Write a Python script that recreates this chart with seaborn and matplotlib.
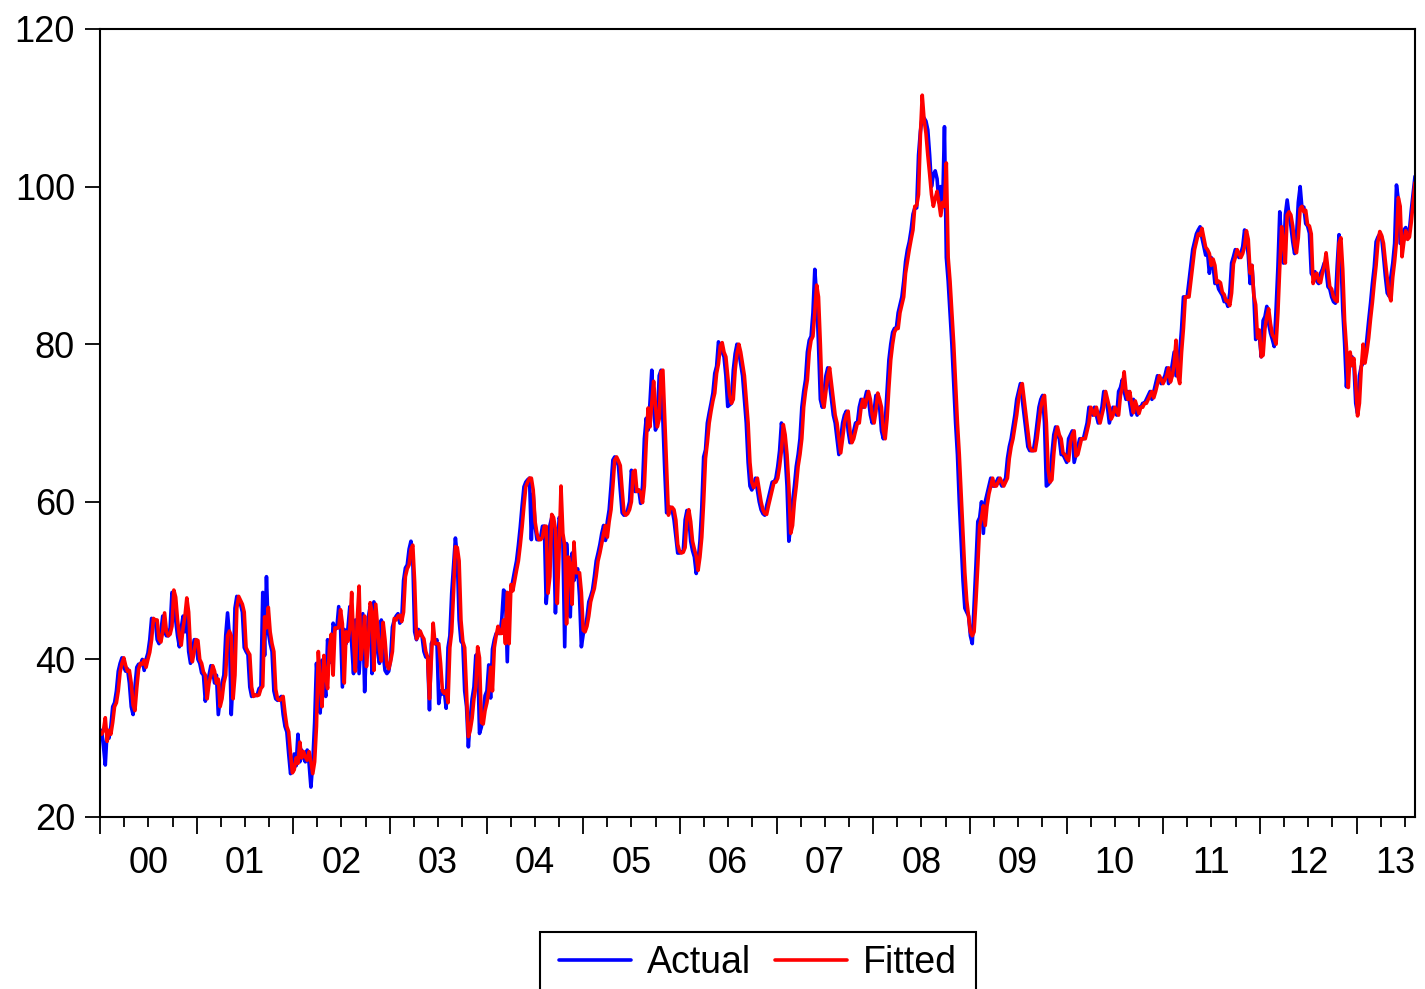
import pandas as pd
import matplotlib
matplotlib.use("Agg")
import matplotlib.pyplot as plt
import matplotlib.dates as mdates
import matplotlib.ticker as mticker
import matplotlib.transforms as mtransforms
import seaborn as sns

# weekly values, one list per calendar year
actual_2000 = [31, 29, 26.6, 31, 30, 31.5, 34, 34.5, 36, 38.5,
               39.5, 40.2, 39, 38.5, 38.8, 37, 34, 33, 36.5, 39,
               39.4, 39.3, 40, 38.6, 40, 40.8, 42.5, 45.2, 45, 45,
               42.5, 42, 43.5, 45.5, 43.5, 43, 43, 44, 48.5, 48,
               45, 43, 41.6, 44, 45.5, 43.5, 46, 41, 39.5, 41,
               42.5, 42.5]
actual_2001 = [40, 39.5, 38.3, 38, 34.7, 37, 38, 39.2, 38.5, 37,
               38, 33, 35, 37, 38, 43, 45.9, 43, 33, 38,
               46.5, 48, 47.5, 47, 46, 41.5, 41, 40.6, 36.5, 35.3,
               35.5, 35.4, 35.5, 36.3, 36.5, 48.5, 40.5, 50.5, 43.5, 42,
               41, 36, 35, 34.8, 35, 35.3, 33, 31.5, 30.8, 28,
               25.5, 26.5]
actual_2002 = [28, 26.5, 30.5, 27, 28.5, 27.5, 27, 28.5, 26.8, 23.8,
               27, 32, 39.5, 36, 33.2, 39.9, 37.7, 35.3, 42.5, 40,
               39.6, 44.6, 43.8, 44, 46.7, 44, 36.5, 43.8, 42, 44,
               46.7, 42, 38.2, 45, 44, 38.2, 42, 45.8, 35.9, 42,
               45.4, 46.7, 38.2, 47.3, 43.8, 41, 39.5, 45, 40.7, 38.6,
               38.2, 38.5]
actual_2003 = [40, 44.1, 45, 45.5, 45.8, 44.6, 45, 50, 51.6, 52,
               54, 55, 52.5, 43.5, 42.5, 43.8, 43.3, 42.9, 41, 40.3,
               40.3, 33.6, 42, 42.5, 42, 42.5, 34.4, 36, 35.6, 36,
               33.8, 41.5, 43, 48.4, 52, 55.4, 53, 45, 42.3, 42,
               36, 34, 28.9, 32.5, 35, 36.5, 40.5, 40.7, 30.6, 31.4,
               33, 35.4]
actual_2004 = [36, 39.3, 35.1, 41.3, 42.5, 43.3, 43.3, 43.3, 45, 48.8,
               48.5, 39.7, 48.3, 48.7, 50, 51.3, 52.5, 54.5, 56.8, 59.5,
               61.9, 62.5, 62.8, 63, 55.2, 61, 57, 55.2, 55.2, 55.5,
               56.9, 56.9, 47.1, 50, 57, 58, 56, 45.9, 53, 58,
               57.5, 55, 41.6, 54.7, 51, 45.4, 53.5, 50, 51, 51.5,
               48, 41.6, 43.2]
actual_2005 = [44, 45.3, 47.3, 48, 48.8, 50.5, 52.5, 53.5, 54.6, 56,
               57, 55.1, 57.5, 59, 62, 65.3, 65.7, 65.2, 64.6, 61.5,
               58.6, 58.3, 58.5, 59, 60, 64, 62.6, 61.3, 61.5, 61.5,
               59.8, 62, 68, 70.6, 69.1, 72.5, 76.7, 72, 69.1, 70,
               76, 76.7, 70.4, 64, 58.6, 59.3, 59.3, 59, 57.7, 55.6,
               53.5, 53.5]
actual_2006 = [53.6, 53.8, 57.7, 58.9, 58, 55, 53.8, 53, 50.9, 52.5,
               55, 59.3, 65.7, 66.6, 70, 71.3, 72.5, 73.8, 76.3, 77.2,
               80.3, 79.7, 79, 78.4, 76, 72.1, 72.3, 72.5, 76.7, 78.8,
               80, 79, 77.5, 76, 73, 70, 65, 62, 61.5, 62,
               63, 61.5, 60, 59, 58.5, 58.3, 59.5, 60.5, 61.5, 62.5,
               62.5, 63]
actual_2007 = [64.5, 66.5, 70, 68.5, 66, 62, 55, 57, 60, 62,
               64.5, 66, 68, 72, 74, 75.5, 79, 80.5, 81, 84,
               89.5, 86, 80, 73, 72, 74, 76, 77, 75, 73,
               71, 70, 68, 66, 68, 70, 71, 71.5, 69, 67.5,
               68, 69, 70, 70, 72, 73, 72, 73, 74, 73,
               71, 70]
actual_2008 = [71.5, 73.5, 73, 72, 69, 68, 70, 74, 78, 80,
               81.5, 82, 82, 84, 85, 86, 88, 90.5, 92, 93,
               94.5, 96.5, 97.3, 97.3, 104, 107, 108.9, 108.7, 108.3, 107.2,
               104, 100, 101.5, 102, 101, 98, 100, 97.4, 107.6, 91,
               88, 84, 80, 75, 70, 66, 60, 55, 50, 46.5,
               46, 45.5, 43]
actual_2009 = [42, 47, 52, 57.5, 58, 60, 56, 60, 61, 62,
               63, 62, 62, 62.5, 63, 62.5, 62, 62.5, 63, 65.5,
               67, 68, 69.5, 71, 73, 74, 75, 73, 71, 69,
               67, 66.5, 66.5, 66.5, 68, 70, 72, 73, 73.5, 70,
               62, 62.2, 62.5, 66, 68.5, 69.5, 68.5, 68, 66, 66,
               65.5, 65]
actual_2010 = [68, 68.5, 69, 65, 66, 67, 68, 68, 68, 69,
               70, 72, 71.5, 71, 72, 71, 70, 71, 72, 74,
               73, 72, 70, 71, 72, 71.5, 71, 74, 74.5, 75.5,
               74, 73, 74, 72.5, 71, 73, 72, 71, 72, 72,
               72.5, 72.5, 73, 73.5, 74, 73, 74, 75, 76, 75.5,
               75, 75.5]
actual_2011 = [76, 77, 75, 76, 77.5, 79, 76, 76, 79, 82,
               86, 86, 86, 88, 90, 92, 93, 94, 94.5, 94.9,
               93.5, 92.4, 91.3, 91.6, 89, 91, 90, 87.7, 88, 87,
               86.6, 86.2, 85.4, 85.5, 84.8, 86.5, 90.3, 91.1, 92, 91.5,
               91, 91.5, 92.4, 94.5, 93.3, 91.3, 87.7, 90, 86.2, 80.6,
               81.8, 81]
actual_2012 = [78.4, 83, 83.5, 84.8, 82.6, 81.4, 80.6, 79.7, 84.4, 89.8,
               96.8, 93, 90.3, 96.4, 98.3, 96.4, 95, 93, 91.5, 93.5,
               98, 100, 97.2, 97.4, 95.3, 95, 94.1, 89, 88.6, 89.2,
               88, 87.7, 89, 89.5, 90.3, 89.5, 87.3, 87, 86, 85.4,
               85.2, 90, 93.9, 91.2, 84.4, 80.1, 74.6, 78.4, 77.2, 78.4,
               77.5, 72.5]
actual_2013 = [71.2, 76, 77.2, 77.6, 78.5, 80.6, 83, 85.2, 87.7, 89.8,
               93, 93.6, 94, 93.6, 91.2, 88.6, 86.5, 86.1, 88.6, 90.3,
               92.8, 100.2, 98.3, 92.8, 92.8, 94.5, 94.8, 93.6, 94.5, 97,
               99.2, 101.3]

fitted_2000 = [30.5, 31, 32.6, 29.6, 31, 30.5, 32, 34, 34.5, 36,
               38.4, 39.5, 40.2, 39.2, 38.5, 38.6, 37, 34.2, 33.5, 36.4,
               38.8, 39.5, 39.4, 39.9, 39, 40, 40.9, 42.5, 45.2, 45,
               45, 42.6, 42.2, 43.5, 45.9, 43.6, 43, 43.2, 44.2, 48.8,
               47.9, 45, 43, 41.8, 44, 45.5, 47.8, 46, 41.2, 39.7,
               41, 42.5]
fitted_2001 = [42.4, 40, 39.5, 38.4, 38, 35, 37, 38, 39.2, 38.5,
               37, 37.5, 34, 35, 37, 38, 43, 43.6, 43, 35,
               38, 46.5, 48, 47.5, 47, 46, 41.5, 41, 40.6, 36.5,
               35.3, 35.5, 35.4, 35.5, 36.3, 36.6, 45.4, 44, 46.6, 43.5,
               42, 41, 36.2, 35, 34.8, 35, 35.3, 33.2, 31.5, 30.8,
               28, 25.6]
fitted_2002 = [26, 27.5, 26.8, 29.5, 27.5, 28.3, 27.6, 27.2, 28.3, 27,
               25.5, 27, 31.5, 41, 37, 34, 40.5, 37.9, 36.3, 41.5,
               43.2, 38, 44, 44, 44, 46.3, 44.5, 37, 43.5, 42.3,
               44, 48.5, 42.5, 38.5, 45, 49.3, 40, 42.2, 45.5, 39.1,
               42, 47.2, 46, 38.6, 47, 44.1, 41.2, 39.8, 44.7, 42.5,
               39.3, 38.8]
fitted_2003 = [39.7, 41, 45.2, 45, 45.5, 45.6, 44.8, 46, 50.5, 51.5,
               52, 54, 54.5, 49.8, 42.6, 43, 43.6, 43, 42.6, 41,
               40.3, 35, 40, 44.6, 42, 42, 42, 39.5, 36, 35.7,
               36, 34.5, 41.5, 43.5, 48.5, 54.3, 54.2, 52.5, 45, 42.3,
               41.5, 36, 30.2, 31, 32.5, 35, 36.5, 41.6, 40.2, 32,
               31.8, 33.5]
fitted_2004 = [34.5, 36, 39, 36, 41.5, 43, 44.2, 43.3, 43.3, 45,
               42, 48.5, 42, 49.5, 48.7, 50, 51.3, 52.5, 54.5, 56.8,
               59.5, 61.9, 62.5, 63, 63, 61.5, 57.5, 56, 55.2, 55.2,
               55.5, 56.9, 56.9, 48.4, 50.5, 58.4, 58, 56.5, 47.1, 54,
               62, 56, 54.5, 44.5, 53, 52, 47, 54.9, 51, 51,
               51, 48.5, 43.7]
fitted_2005 = [43.5, 44.2, 45.5, 47.3, 48.2, 49, 50.6, 52.5, 53.5, 54.7,
               56, 57, 55.5, 57.5, 59, 62, 65.3, 65.7, 65.2, 64.6,
               61.5, 58.6, 58.3, 58.5, 59, 60, 63.8, 64, 61.3, 61.5,
               61.2, 59.9, 62, 67.5, 71.9, 69.5, 72.5, 75.3, 72.2, 69.5,
               70.5, 76.5, 76.7, 70.5, 64.2, 58.3, 59.3, 59.3, 59, 57.7,
               54.6, 53.7]
fitted_2006 = [53.5, 53.6, 54.2, 58, 59, 57.5, 55, 54, 53.1, 51.3,
               53, 55.5, 60, 65.5, 67.5, 70, 71.5, 72.8, 73.8, 76.3,
               77.5, 79.8, 80.2, 79, 78.4, 76, 73.5, 72.5, 73, 76.7,
               78.8, 80, 79, 77.5, 76, 73, 70, 65, 62.5, 61.8,
               62.2, 63, 61.5, 60, 59, 58.5, 58.4, 59.5, 60.5, 61.5,
               62.5, 62.5]
fitted_2007 = [63, 64.5, 66.5, 69.8, 68.5, 66, 62, 56, 57, 60,
               62, 64.5, 66, 68, 72, 74, 75.5, 79, 80.5, 81,
               84, 87.5, 86, 80, 73, 72, 74, 76, 77, 75,
               73, 71, 70, 68, 66.2, 68, 70, 71, 71.5, 69,
               67.5, 68, 69, 70, 70, 72, 73, 72, 73, 74,
               73, 71]
fitted_2008 = [70, 71.5, 73.8, 73, 72, 69, 68, 70.5, 74.5, 78,
               80, 81.5, 82, 82, 84, 85, 86, 89, 90.5, 92,
               93.3, 94.5, 97.5, 97.6, 99, 106.5, 111.6, 108.5, 106.8, 104,
               101.6, 99, 97.5, 98.5, 99.4, 98, 96.3, 98, 97.5, 103,
               91, 88, 84, 80, 75, 70, 66, 61, 56, 51,
               47.5, 45.5, 43.5]
fitted_2009 = [43, 43.5, 47.5, 52, 57, 58, 59.5, 57, 59.5, 61,
               62, 63, 62, 62, 62.5, 63, 62.5, 62, 62.5, 63,
               65.5, 67, 68, 69.5, 71, 73, 74.3, 75, 73, 71,
               69, 67, 66.5, 66.5, 66.5, 68, 70, 72, 73, 73.5,
               70, 64, 62.5, 62.8, 66, 68.5, 69.5, 68.5, 68, 66.2,
               66, 65.5]
fitted_2010 = [65.2, 67.5, 68.5, 69, 65.8, 66, 67, 68, 68, 68,
               69, 70, 72, 71.5, 71, 72, 71, 70, 71, 72,
               74, 73, 72, 70.5, 71, 72, 71.5, 71, 73.5, 74.5,
               76.5, 74, 73, 74, 72.5, 71.3, 72.8, 72, 71.2, 72,
               72, 72.5, 72.5, 73, 73.5, 74, 73.2, 74, 75, 76,
               75.5, 75]
fitted_2011 = [75.5, 76, 77, 75.2, 76, 77.5, 80.5, 76, 75, 79,
               82, 86, 86, 86, 88, 90, 92, 93, 94, 93.8,
               94.7, 93.5, 92.3, 92, 91.5, 90, 90.8, 90, 87.8, 88,
               87.8, 86.6, 86.3, 85.5, 85.5, 84.9, 86.5, 90.2, 91, 92,
               91.5, 91, 91.5, 92.4, 94.4, 93.3, 89, 90, 86.2, 85,
               80.8, 81.8]
fitted_2012 = [78.4, 78.6, 82, 83.5, 84.5, 82.6, 81.2, 80.8, 80, 84,
               89.8, 94.9, 93, 90.3, 96.4, 96.8, 96.4, 95, 92.6, 91.6,
               93.5, 97.2, 97.5, 96.8, 97, 95.2, 95, 94, 87.7, 88.6,
               89, 88, 87.8, 89, 89.8, 91.6, 89.5, 87.3, 87, 86,
               85.6, 85.4, 92.8, 93.5, 89.5, 83, 79.5, 74.5, 79, 77.3,
               78.2, 75]
fitted_2013 = [70.9, 72.5, 77, 80, 77.6, 79, 80.8, 83.2, 85.3, 87.8,
               90, 93, 94.3, 93.8, 92.8, 90.5, 88.4, 86.3, 85.5, 88.5,
               90.5, 93, 98.6, 97.5, 91.1, 93, 94.4, 93.3, 93.6, 95.5,
               98, 100.5]

y_ticks = [20, 40, 60, 80, 100, 120]

actual = (actual_2000 + actual_2001 + actual_2002 + actual_2003 + actual_2004
          + actual_2005 + actual_2006 + actual_2007 + actual_2008 + actual_2009
          + actual_2010 + actual_2011 + actual_2012 + actual_2013)
fitted = (fitted_2000 + fitted_2001 + fitted_2002 + fitted_2003 + fitted_2004
          + fitted_2005 + fitted_2006 + fitted_2007 + fitted_2008 + fitted_2009
          + fitted_2010 + fitted_2011 + fitted_2012 + fitted_2013)

dates = pd.date_range("2000-01-07", periods=len(actual), freq="W-FRI")
df = pd.DataFrame({"date": dates, "Actual": actual, "Fitted": fitted})
df = df.melt(id_vars="date", var_name="series", value_name="value")

sns.set_style("ticks")
plt.rcParams["font.family"] = ["Liberation Sans", "DejaVu Sans"]

fig = plt.figure(figsize=(14.25, 9.89), dpi=100)
ax = fig.add_axes([100 / 1425, 1 - 817 / 989, 1315 / 1425, 788 / 989])

sns.lineplot(data=df, x="date", y="value", hue="series",
             palette={"Actual": "#0000ff", "Fitted": "#ff0000"},
             linewidth=2.6, ax=ax, legend=False)

ax.set_xlim(pd.Timestamp("2000-01-01"), dates[-1])
ax.set_ylim(20, 120)
ax.set_yticks(y_ticks)
ax.set_xlabel("")
ax.set_ylabel("")

# long ticks at year starts, short ticks each quarter, year label mid-year
ax.xaxis.set_major_locator(mdates.YearLocator())
ax.xaxis.set_major_formatter(mticker.NullFormatter())
ax.xaxis.set_minor_locator(mdates.MonthLocator(bymonth=[4, 7, 10]))


def mid_year(x, pos):
    d = mdates.num2date(x)
    return d.strftime("%y") if d.month == 7 else ""


ax.xaxis.set_minor_formatter(mticker.FuncFormatter(mid_year))
ax.tick_params(axis="x", which="major", length=12, width=1.3, color="black")
ax.tick_params(axis="x", which="minor", length=7, width=1.3, color="black",
               labelsize=26, labelcolor="black", pad=14)
ax.tick_params(axis="y", length=11, width=1.3, color="black",
               labelsize=26, labelcolor="black", pad=7)

for s in ax.spines.values():
    s.set_visible(True)
    s.set_color("black")
    s.set_linewidth(1.5)

# legend box hangs off the bottom edge of the figure, like the original
leg = ax.legend(ax.get_lines()[:2], ["Actual", "Fitted"], ncol=2,
                loc="upper center", bbox_to_anchor=(758 / 1425, 1 - 936 / 989),
                bbox_transform=fig.transFigure, fontsize=27, frameon=True,
                fancybox=False, edgecolor="black", framealpha=1,
                labelcolor="black",
                handlelength=1.92, handletextpad=0.43, columnspacing=0.64,
                borderpad=0.25, borderaxespad=0)
frame = leg.get_frame()
frame.set_linewidth(1.5)
frame.set_boxstyle("square", pad=0.25)
frame.set_mutation_aspect(0.43)

# the last year label sits a little left of its tick, as in the original
fig.canvas.draw()
for tick in ax.xaxis.get_minor_ticks():
    if tick.label1.get_text() == "13":
        shift = mtransforms.ScaledTranslation(-9 / 100, 0, fig.dpi_scale_trans)
        tick.label1.set_transform(tick.label1.get_transform() + shift)

fig.savefig("out.png", dpi=100)
